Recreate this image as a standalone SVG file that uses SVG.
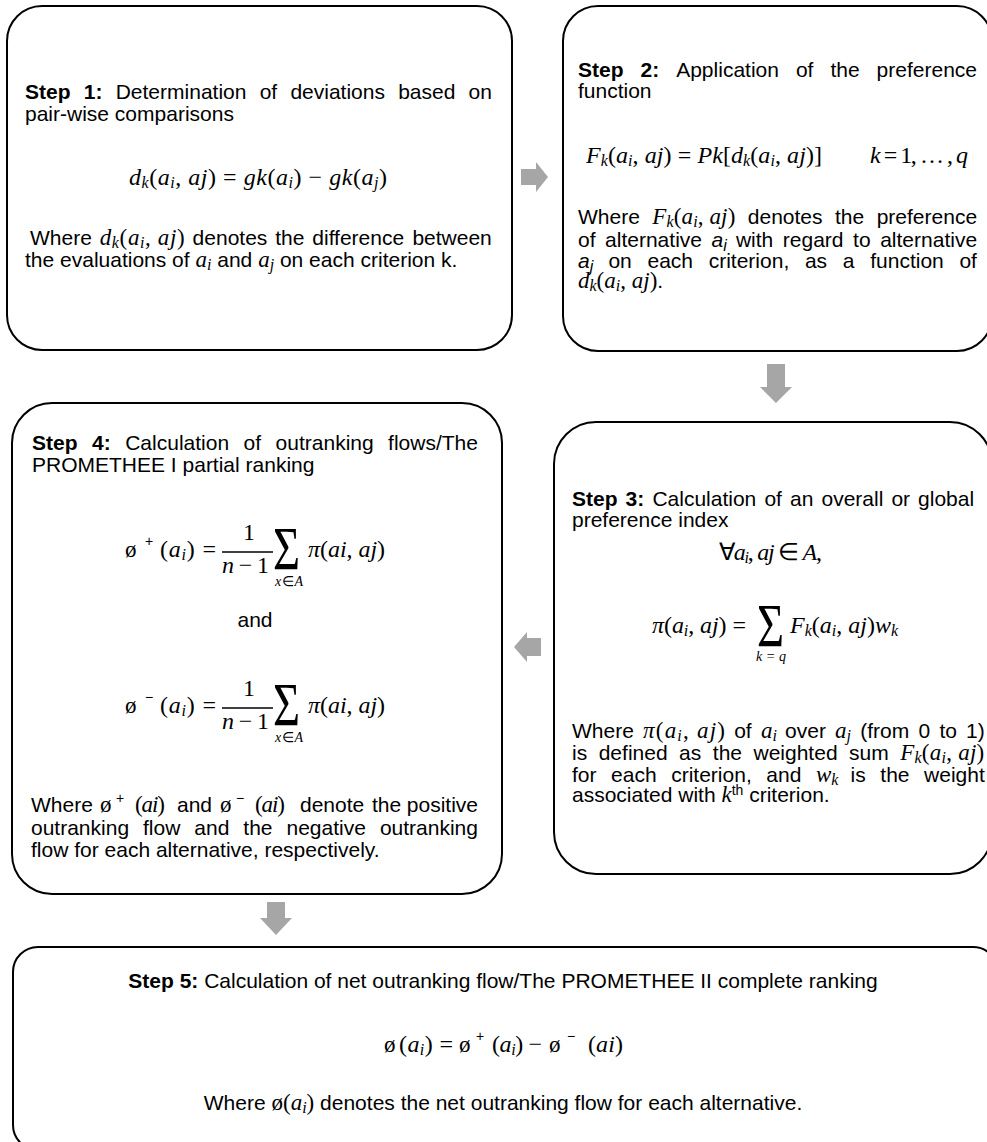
<svg xmlns="http://www.w3.org/2000/svg" width="987" height="1142" viewBox="0 0 987 1142">
  <style>
    .box { fill: #fff; stroke: #000; stroke-width: 2; }
    .arrow { fill: #a6a6a6; stroke: none; }
    .bar { stroke: #000; stroke-width: 1.3; }
    .t { font-family: "Liberation Sans", Arial, sans-serif; font-size: 21px; fill: #000; }
    .b { font-weight: bold; }
    .it { font-style: italic; }
    .m { font-family: "Liberation Serif", "Times New Roman", serif; font-style: italic; font-size: 23px; fill: #000; }
    .d { font-size: 24px; }
    .o { font-family: "Liberation Serif", "Times New Roman", serif; font-style: normal; font-size: 23px; fill: #000; }
    .u { font-style: normal; }
    .sb { font-size: 16px; }
    .sp { font-size: 14px; }
    .sig { font-family: "Liberation Serif", "Times New Roman", serif; font-size: 62px; fill: #000; }
  </style>

  <!-- connectors: grey block arrows between the steps -->
  <g id="connectors">
    <polygon class="arrow" points="521,169 536,169 536,162 548,177 536,192 536,185 521,185"/>
    <polygon class="arrow" points="767,364 785,364 785,387 792,387 776,403 760,387 767,387"/>
    <polygon class="arrow" points="541,638 527,638 527,632 514,647 527,662 527,656 541,656"/>
    <polygon class="arrow" points="267,902 285,902 285,918 292,918 276,935 260,918 267,918"/>
  </g>

  <!-- Step 1 -->
  <g id="step1">
    <rect class="box" x="7" y="6" width="505" height="344" rx="35"/>
    <text class="t" y="99"><tspan class="b" x="25">Step</tspan><tspan class="b" x="83.8">1:</tspan><tspan x="115.7">Determination</tspan><tspan x="259.7">of</tspan><tspan x="290.4">deviations</tspan><tspan x="398.2">based</tspan><tspan x="468.6">on</tspan></text>
    <text class="t" x="25" y="121">pair-wise comparisons</text>
    <text class="m d" x="129" y="185" textLength="258">d<tspan class="sb" dy="3">k</tspan><tspan class="u" dy="-3">(</tspan>a<tspan class="sb" dy="3">i</tspan><tspan class="u" dy="-3">, </tspan>aj<tspan class="u">) = </tspan>gk<tspan class="u">(</tspan>a<tspan class="sb" dy="3">i</tspan><tspan class="u" dy="-3">) − </tspan>gk<tspan class="u">(</tspan>a<tspan class="sb" dy="3">j</tspan><tspan class="u" dy="-3">)</tspan></text>
    <text class="t" y="245"><tspan x="30">Where</tspan><tspan x="192.6">denotes</tspan><tspan x="275.2">the</tspan><tspan x="312.3">difference</tspan><tspan x="412.4">between</tspan></text>
    <text class="m" x="99.7" y="245" textLength="85">d<tspan class="sb" dy="3">k</tspan><tspan class="u" dy="-3">(</tspan>a<tspan class="sb" dy="3">i</tspan><tspan class="u" dy="-3">, </tspan>aj<tspan class="u">)</tspan></text>
    <text class="t" x="25" y="267">the evaluations of <tspan class="m">a</tspan><tspan class="m sb" dy="3">i</tspan><tspan dy="-3"> and </tspan><tspan class="m">a</tspan><tspan class="m sb" dy="3">j</tspan><tspan dy="-3"> on each criterion k.</tspan></text>
  </g>

  <!-- Step 2 -->
  <g id="step2">
    <rect class="box" x="563" y="6" width="429" height="345" rx="35"/>
    <text class="t" y="77"><tspan class="b" x="578">Step</tspan><tspan class="b" x="640.5">2:</tspan><tspan x="676.2">Application</tspan><tspan x="795.9">of</tspan><tspan x="830.4">the</tspan><tspan x="876.6">preference</tspan></text>
    <text class="t" x="578" y="98">function</text>
    <text class="m d" x="586" y="163" textLength="236">F<tspan class="sb" dy="3">k</tspan><tspan class="u" dy="-3">(</tspan>a<tspan class="sb" dy="3">i</tspan><tspan class="u" dy="-3">, </tspan>aj<tspan class="u">) = </tspan>Pk<tspan class="u">[</tspan>d<tspan class="sb" dy="3">k</tspan><tspan class="u" dy="-3">(</tspan>a<tspan class="sb" dy="3">i</tspan><tspan class="u" dy="-3">, </tspan>aj<tspan class="u">)]</tspan></text>
    <text class="m d" x="870" y="163" textLength="98">k<tspan class="u"> = 1, … , </tspan>q</text>
    <text class="t" y="224"><tspan x="578">Where</tspan><tspan x="747.8">denotes</tspan><tspan x="835">the</tspan><tspan x="876.7">preference</tspan></text>
    <text class="m" x="652.3" y="224" textLength="83">F<tspan class="sb" dy="3">k</tspan><tspan class="u" dy="-3">(</tspan>a<tspan class="sb" dy="3">i</tspan><tspan class="u" dy="-3">, </tspan>aj<tspan class="u">)</tspan></text>
    <text class="t" y="247"><tspan x="578">of</tspan><tspan x="605.1">alternative</tspan><tspan class="it" x="711.6">a</tspan><tspan class="it sb" dy="4">i</tspan><tspan x="735.9" dy="-4">with</tspan><tspan x="782.8">regard</tspan><tspan x="853.1">to</tspan><tspan x="880.2">alternative</tspan></text>
    <text class="t" y="268"><tspan class="it" x="578">a</tspan><tspan class="it sb" dy="4">j</tspan><tspan x="608.4" dy="-4">on</tspan><tspan x="647.5">each</tspan><tspan x="708.7">criterion,</tspan><tspan x="804.9">as</tspan><tspan x="842.8">a</tspan><tspan x="870.2">function</tspan><tspan x="959.4">of</tspan></text>
    <text class="m" x="578" y="288">d<tspan class="sb" dy="3">k</tspan><tspan class="u" dy="-3">(</tspan>a<tspan class="sb" dy="3">i</tspan><tspan class="u" dy="-3">, </tspan>aj<tspan class="u">)</tspan><tspan class="t u">.</tspan></text>
  </g>

  <!-- Step 3 -->
  <g id="step3">
    <rect class="box" x="554" y="422" width="438" height="452" rx="42"/>
    <text class="t" y="506"><tspan class="b" x="572">Step</tspan><tspan class="b" x="625.6">3:</tspan><tspan x="652.4">Calculation</tspan><tspan x="764.4">of</tspan><tspan x="790">an</tspan><tspan x="821.5">overall</tspan><tspan x="891.4">or</tspan><tspan x="918.1">global</tspan></text>
    <text class="t" x="572" y="527">preference index</text>
    <text class="m d" x="719" y="560" textLength="103"><tspan class="u">∀</tspan>a<tspan class="sb" dy="3">i</tspan><tspan class="u" dy="-3">, </tspan>aj<tspan class="u"> ∈ </tspan>A<tspan class="u">,</tspan></text>
    <text class="m d" x="652" y="633" textLength="94">π<tspan class="u">(</tspan>a<tspan class="sb" dy="3">i</tspan><tspan class="u" dy="-3">, </tspan>aj<tspan class="u">) =</tspan></text>
    <text class="sig" transform="translate(757 646) scale(0.75 1)">Σ</text>
    <text class="m sp" x="756" y="661" textLength="30">k<tspan class="u">=</tspan>q</text>
    <text class="m d" x="790" y="633" textLength="108">F<tspan class="sb" dy="3">k</tspan><tspan class="u" dy="-3">(</tspan>a<tspan class="sb" dy="3">i</tspan><tspan class="u" dy="-3">, </tspan>aj<tspan class="u">)</tspan>w<tspan class="sb" dy="3">k</tspan></text>
    <text class="t" y="738"><tspan x="572">Where</tspan><tspan x="734.2">of</tspan><tspan x="785.1">over</tspan><tspan x="860.3">(from</tspan><tspan x="918.5">0</tspan><tspan x="939.4">to</tspan><tspan x="966.1">1)</tspan></text>
    <text class="m" x="643" y="738" textLength="82">π<tspan class="u">(</tspan>a<tspan class="sb" dy="3">i</tspan><tspan class="u" dy="-3">, </tspan>aj<tspan class="u">)</tspan></text>
    <text class="m" x="760.9" y="738">a<tspan class="sb" dy="3">i</tspan></text>
    <text class="m" x="835.1" y="738">a<tspan class="sb" dy="3">j</tspan></text>
    <text class="t" y="760"><tspan x="572">is</tspan><tspan x="598.7">defined</tspan><tspan x="679.1">as</tspan><tspan x="712.8">the</tspan><tspan x="753.5">weighted</tspan><tspan x="849">sum</tspan></text>
    <text class="m" x="900.2" y="760" textLength="84">F<tspan class="sb" dy="3">k</tspan><tspan class="u" dy="-3">(</tspan>a<tspan class="sb" dy="3">i</tspan><tspan class="u" dy="-3">, </tspan>aj<tspan class="u">)</tspan></text>
    <text class="t" y="782"><tspan x="572">for</tspan><tspan x="611.1">each</tspan><tspan x="671.2">criterion,</tspan><tspan x="766.3">and</tspan><tspan x="850.5">is</tspan><tspan x="880.3">the</tspan><tspan x="924.1">weight</tspan></text>
    <text class="m" x="815.9" y="782">w<tspan class="sb" dy="3">k</tspan></text>
    <text class="t" x="572" y="802">associated with <tspan class="m">k</tspan><tspan class="sp" dy="-7">th</tspan><tspan dy="7"> criterion.</tspan></text>
  </g>

  <!-- Step 4 -->
  <g id="step4">
    <rect class="box" x="12" y="403" width="490" height="491" rx="40"/>
    <text class="t" y="450"><tspan class="b" x="32">Step</tspan><tspan class="b" x="92">4:</tspan><tspan x="125.2">Calculation</tspan><tspan x="243.6">of</tspan><tspan x="275.6">outranking</tspan><tspan x="388.1">flows/The</tspan></text>
    <text class="t" x="32" y="472">PROMETHEE I partial ranking</text>

    <!-- positive flow -->
    <text class="o" x="125" y="557">ø</text>
    <text class="t sp" x="145" y="546">+</text>
    <text class="m d" x="160" y="557" textLength="56"><tspan class="u">(</tspan>a<tspan class="sb" dy="3">i</tspan><tspan class="u" dy="-3">) =</tspan></text>
    <text class="m d u" x="243" y="540">1</text>
    <line class="bar" x1="222" y1="552" x2="273" y2="552"/>
    <text class="m d" x="222" y="573" textLength="47">n<tspan class="u"> − 1</tspan></text>
    <text class="sig" transform="translate(273 569) scale(0.75 1)">Σ</text>
    <text class="m sp" x="275" y="586" textLength="28">x<tspan class="u">∈</tspan>A</text>
    <text class="m d" x="308" y="557" textLength="77">π<tspan class="u">(</tspan>ai<tspan class="u">, </tspan>aj<tspan class="u">)</tspan></text>

    <text class="t" x="255" y="627" text-anchor="middle">and</text>

    <!-- negative flow -->
    <text class="o" x="125" y="713">ø</text>
    <text class="t sp" x="145" y="702">−</text>
    <text class="m d" x="160" y="713" textLength="56"><tspan class="u">(</tspan>a<tspan class="sb" dy="3">i</tspan><tspan class="u" dy="-3">) =</tspan></text>
    <text class="m d u" x="243" y="696">1</text>
    <line class="bar" x1="222" y1="708" x2="273" y2="708"/>
    <text class="m d" x="222" y="729" textLength="47">n<tspan class="u"> − 1</tspan></text>
    <text class="sig" transform="translate(273 725) scale(0.75 1)">Σ</text>
    <text class="m sp" x="275" y="742" textLength="28">x<tspan class="u">∈</tspan>A</text>
    <text class="m d" x="308" y="713" textLength="77">π<tspan class="u">(</tspan>ai<tspan class="u">, </tspan>aj<tspan class="u">)</tspan></text>

    <text class="t" y="812"><tspan x="31">Where</tspan><tspan x="177">and</tspan><tspan x="300">denote</tspan><tspan x="372">the</tspan><tspan x="406.8">positive</tspan></text>
    <text class="o" x="100" y="812">ø</text>
    <text class="o" x="220" y="812">ø</text>
    <text class="t sp" x="116" y="803">+</text>
    <text class="t sp" x="236" y="803">−</text>
    <text class="m" x="135" y="812" textLength="30"><tspan class="u">(</tspan>ai<tspan class="u">)</tspan></text>
    <text class="m" x="255" y="812" textLength="30"><tspan class="u">(</tspan>ai<tspan class="u">)</tspan></text>
    <text class="t" y="835"><tspan x="31">outranking</tspan><tspan x="143">flow</tspan><tspan x="194.3">and</tspan><tspan x="243.3">the</tspan><tspan x="286.5">negative</tspan><tspan x="379.9">outranking</tspan></text>
    <text class="t" x="31" y="857">flow for each alternative, respectively.</text>
  </g>

  <!-- Step 5 -->
  <g id="step5">
    <rect class="box" x="13" y="947" width="985" height="203" rx="25"/>
    <text class="t" x="503" y="988" text-anchor="middle"><tspan class="b">Step 5:</tspan> Calculation of net outranking flow/The PROMETHEE II complete ranking</text>
    <text class="o" x="384" y="1052">ø</text>
    <text class="m d" x="399" y="1052" textLength="54"><tspan class="u">(</tspan>a<tspan class="sb" dy="3">i</tspan><tspan class="u" dy="-3">) =</tspan></text>
    <text class="o" x="459" y="1052">ø</text>
    <text class="t sp" x="476" y="1041">+</text>
    <text class="m d" x="492" y="1052" textLength="50"><tspan class="u">(</tspan>a<tspan class="sb" dy="3">i</tspan><tspan class="u" dy="-3">) −</tspan></text>
    <text class="o" x="549" y="1052">ø</text>
    <text class="t sp" x="567" y="1041">−</text>
    <text class="m d" x="588" y="1052" textLength="35"><tspan class="u">(</tspan>ai<tspan class="u">)</tspan></text>
    <text class="t" x="503" y="1110" text-anchor="middle">Where <tspan class="o">ø</tspan><tspan class="m u">(</tspan><tspan class="m">a</tspan><tspan class="m sb" dy="3">i</tspan><tspan class="m u" dy="-3">)</tspan> denotes the net outranking flow for each alternative.</text>
  </g>
</svg>
